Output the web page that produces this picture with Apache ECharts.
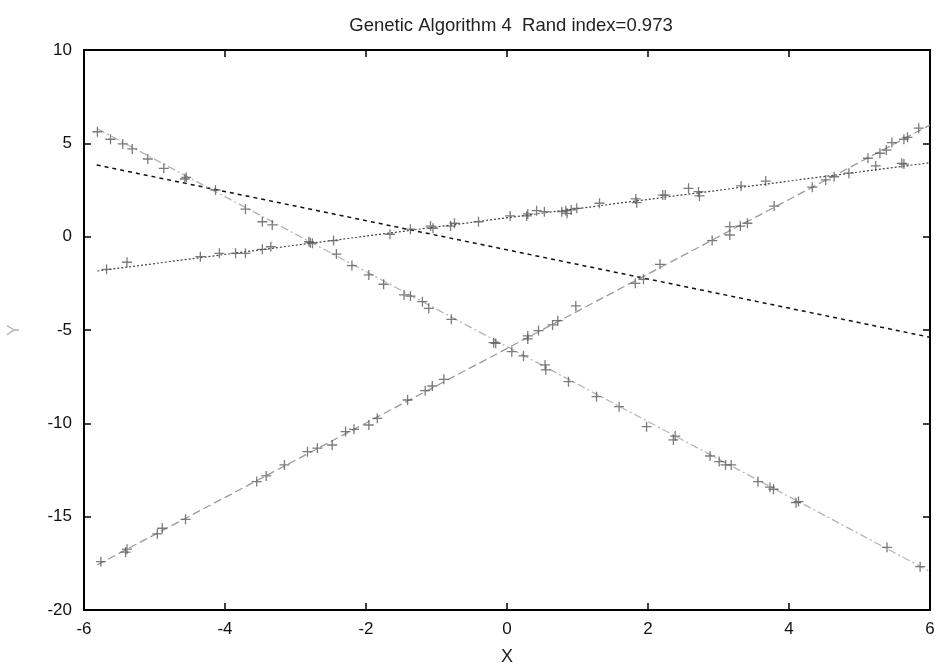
<!DOCTYPE html>
<html>
<head>
<meta charset="utf-8">
<title>Genetic Algorithm 4</title>
<script src="https://cdn.jsdelivr.net/npm/echarts@6/dist/echarts.min.js"></script>
<style>
  html, body { margin: 0; padding: 0; background: #fff; }
  #chart { width: 938px; height: 666px; }
</style>
</head>
<body>
<div id="chart"></div>
<script>
// cluster A: slowly rising points (dotted fit)
const ax = [-5.68, -5.39, -4.35, -4.08, -3.85, -3.71, -3.47, -3.35, -2.79, -2.46, -1.66, -1.37, -1.085, -1.05, -0.80,
  -0.745, -0.404, 0.045, 0.28, 0.295, 0.42, 0.53, 0.777, 0.834, 0.853, 0.91, 0.99, 1.312, 1.827, 1.84,
  2.21, 2.244, 2.575, 2.716, 2.73, 3.32, 3.67, 4.85, 5.23, 5.60, 5.63]
const ay = [-1.75, -1.37, -1.07, -0.89, -0.89, -0.89, -0.68, -0.54, -0.32, -0.21, 0.13, 0.40, 0.57, 0.45, 0.57,
  0.72, 0.80, 1.11, 1.11, 1.22, 1.39, 1.34, 1.34, 1.39, 1.25, 1.43, 1.52, 1.79, 2.02, 1.82,
  2.23, 2.23, 2.59, 2.41, 2.18, 2.72, 2.98, 3.40, 3.79, 3.93, 3.89]

// cluster B: steep rising points (dashed fit)
const bx = [-5.76, -5.41, -5.39, -4.96, -4.89, -4.56, -3.55, -3.416, -3.156, -2.83, -2.69, -2.48, -2.29, -2.17, -1.96,
  -1.84, -1.41, -1.16, -1.06, -0.896, 0.295, 0.295, 0.447, 0.646, 0.72, 0.976, 1.82, 1.936, 2.17, 2.91,
  3.16, 3.16, 3.31, 3.41, 3.79, 4.33, 4.52, 4.64, 5.12, 5.29, 5.38, 5.46, 5.63, 5.68, 5.84]
const by = [-17.41, -16.9, -16.74, -15.92, -15.62, -15.14, -13.12, -12.82, -12.23, -11.52, -11.33, -11.16, -10.44, -10.32, -10.09,
  -9.73, -8.75, -8.25, -8.0, -7.64, -5.48, -5.32, -5.03, -4.73, -4.50, -3.71, -2.50, -2.28, -1.48, -0.21,
  0.09, 0.54, 0.57, 0.72, 1.64, 2.65, 3.04, 3.21, 4.20, 4.47, 4.64, 5.04, 5.22, 5.32, 5.81]

// cluster C: steep falling points (dash-dot fit)
const cx = [-5.81, -5.624, -5.45, -5.316, -5.095, -4.868, -4.57, -4.55, -4.135, -3.71, -3.47, -3.33, -2.81, -2.76, -2.42,
  -2.20, -1.96, -1.75, -1.46, -1.37, -1.20, -1.11, -0.79, -0.19, -0.16, 0.068, 0.234, 0.54, 0.55, 0.872,
  1.27, 1.59, 1.98, 2.386, 2.36, 2.88, 3.01, 3.10, 3.18, 3.56, 3.73, 3.78, 4.10, 4.135, 5.39, 5.86]
const cy = [5.62, 5.22, 4.97, 4.70, 4.16, 3.66, 3.09, 3.18, 2.50, 1.48, 0.80, 0.63, -0.27, -0.35, -0.93,
  -1.55, -2.05, -2.55, -3.12, -3.18, -3.48, -3.84, -4.43, -5.68, -5.71, -6.16, -6.39, -6.87, -7.14, -7.77,
  -8.57, -9.11, -10.18, -10.68, -10.89, -11.75, -12.05, -12.23, -12.23, -13.12, -13.42, -13.53, -14.25, -14.19, -16.64, -17.68]

// fitted lines (end points)
const lineX = [-5.81, 6]
const lineAy = [-1.84, 3.96]
const lineBy = [-17.58, 5.98]
const lineCy = [5.78, -17.94]
const lineDx = [-5.82, 6]
const lineDy = [3.84, -5.39]

const xTicks = [-6, -4, -2, 0, 2, 4, 6]
const yTicks = [-20, -15, -10, -5, 0, 5, 10]

const zip = (xs, ys) => xs.map((x, i) => [x, ys[i]])

const plus = 'path://M0 5L10 5M5 0L5 10'
function points(xs, ys) {
  return {
    type: 'scatter',
    data: zip(xs, ys),
    symbol: plus,
    symbolSize: 10,
    itemStyle: { color: 'rgba(0,0,0,0)', borderColor: '#5a5a5a', borderWidth: 1.3 },
    z: 5,
    silent: true
  }
}
function fit(xs, ys, color, type, width) {
  return {
    type: 'line',
    data: zip(xs, ys),
    showSymbol: false,
    lineStyle: { color: color, type: type, width: width || 1.3 },
    z: 3,
    silent: true
  }
}

const font = 'Liberation Sans, Arial, Helvetica, sans-serif'
const chart = echarts.init(document.getElementById('chart'))

const baseX = {
  type: 'value', min: xTicks[0], max: xTicks[xTicks.length - 1], interval: 2,
  splitLine: { show: false },
  axisLine: { show: true, onZero: false, lineStyle: { color: '#000', width: 2 } },
  axisTick: { show: true, inside: true, length: 7, lineStyle: { color: '#000', width: 1.5 } }
}
const baseY = {
  type: 'value', min: yTicks[0], max: yTicks[yTicks.length - 1], interval: 5,
  splitLine: { show: false },
  axisLine: { show: true, onZero: false, lineStyle: { color: '#000', width: 2 } },
  axisTick: { show: true, inside: true, length: 7, lineStyle: { color: '#000', width: 1.5 } }
}

chart.setOption({
  animation: false,
  backgroundColor: '#fff',
  title: {
    text: 'Genetic Algorithm 4  Rand index=0.973',
    left: 506, top: 11, textAlign: 'center',
    textStyle: { fontFamily: font, fontSize: 18.5, fontWeight: 'normal', color: '#222' }
  },
  grid: { left: 84, right: 8, top: 50, bottom: 56, outerBoundsMode: 'none', containLabel: false },
  xAxis: [
    Object.assign({}, baseX, {
      position: 'bottom',
      name: 'X', nameLocation: 'middle', nameGap: 38,
      nameTextStyle: { fontFamily: font, fontSize: 18, color: '#222' },
      axisLabel: { margin: 11, fontFamily: font, fontSize: 17, color: '#111' }
    }),
    Object.assign({}, baseX, { position: 'top', axisLabel: { show: false } })
  ],
  yAxis: [
    Object.assign({}, baseY, {
      position: 'left',
      name: 'Y', nameLocation: 'middle', nameGap: 61, nameRotate: 90,
      nameTextStyle: { fontFamily: font, fontSize: 17, color: '#bbb' },
      axisLabel: { margin: 12, fontFamily: font, fontSize: 17, color: '#111' }
    }),
    Object.assign({}, baseY, { position: 'right', axisLabel: { show: false } })
  ],
  series: [
    fit(lineDx, lineDy, '#111', [4, 4], 1.5),
    fit(lineX, lineAy, '#444', [2, 2], 1.2),
    fit(lineX, lineBy, '#9a9a9a', [8, 4], 1.3),
    fit(lineX, lineCy, '#b5b5b5', [8, 3, 2, 3], 1.3),
    points(ax, ay),
    points(bx, by),
    points(cx, cy)
  ]
})
</script>
</body>
</html>
